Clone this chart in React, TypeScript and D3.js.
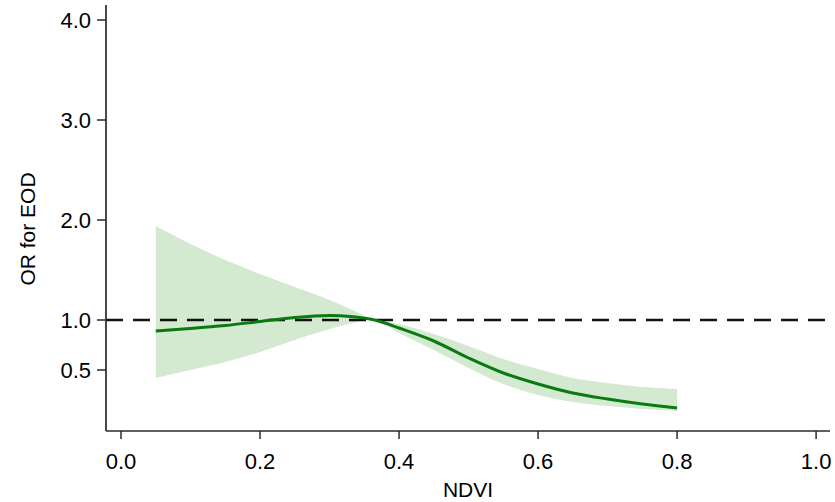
import React from "react";
import * as d3 from "d3";

const ndvi = [0.05, 0.1, 0.15, 0.2, 0.25, 0.3, 0.33, 0.365, 0.4, 0.45, 0.5, 0.55, 0.6, 0.65, 0.7, 0.75, 0.8];
const orMid = [0.89, 0.915, 0.945, 0.985, 1.025, 1.045, 1.035, 1.0, 0.92, 0.79, 0.62, 0.47, 0.36, 0.27, 0.21, 0.16, 0.12];
const orUpper = [1.94, 1.76, 1.6, 1.46, 1.33, 1.2, 1.11, 1.0, 0.96, 0.86, 0.74, 0.61, 0.51, 0.42, 0.37, 0.33, 0.31];
const orLower = [0.42, 0.5, 0.58, 0.68, 0.8, 0.91, 0.965, 1.0, 0.87, 0.7, 0.52, 0.36, 0.25, 0.18, 0.14, 0.11, 0.09];
const xTicks = [0, 0.2, 0.4, 0.6, 0.8, 1.0];
const yTicks = [0.5, 1.0, 2.0, 3.0, 4.0];
const refValue = 1.0;
const xLabel = "NDVI";
const yLabel = "OR for EOD";

export default function App() {
  const W = 835, H = 502;
  const left = 106, right = 830, top = 5, bottom = 431;
  const x = d3.scaleLinear().domain([-0.0216, 1.02]).range([left, right]);
  const y = d3.scaleLinear().domain([-0.11, 4.15]).range([bottom, top]);
  const rows = ndvi.map((v, i) => ({ v, m: orMid[i], u: orUpper[i], l: orLower[i] }));
  const area = d3.area<any>().x(d => x(d.v)).y0(d => y(d.l)).y1(d => y(d.u)).curve(d3.curveCatmullRom.alpha(0.5));
  const line = d3.line<any>().x(d => x(d.v)).y(d => y(d.m)).curve(d3.curveCatmullRom.alpha(0.5));
  const font = "'Liberation Sans', Arial, Helvetica, sans-serif";
  const axisColor = "#2a2a2a";
  return (
    <svg width={W} height={H} style={{ position: "absolute", left: 0, top: 0, background: "#fff" }} fontFamily={font}>
      <path d={area(rows) || ""} fill="#d3e9d0" stroke="none" />
      <line x1={left} x2={W} y1={y(refValue)} y2={y(refValue)} stroke="#111" strokeWidth={2.5} strokeDasharray="17 10" />
      <path d={line(rows) || ""} fill="none" stroke="#0a7a10" strokeWidth={3} />
      <line x1={left} x2={left} y1={top} y2={bottom} stroke={axisColor} strokeWidth={1.7} />
      <line x1={left} x2={right} y1={bottom} y2={bottom} stroke={axisColor} strokeWidth={1.7} />
      {yTicks.map(t => (
        <g key={"y" + t}>
          <line x1={left - 9} x2={left} y1={y(t)} y2={y(t)} stroke={axisColor} strokeWidth={1.5} />
          <text x={left - 15} y={y(t)} dy="0.36em" textAnchor="end" fontSize={22} fill="#000">{t.toFixed(1)}</text>
        </g>
      ))}
      {xTicks.map(t => (
        <g key={"x" + t}>
          <line x1={x(t)} x2={x(t)} y1={bottom} y2={bottom + 8} stroke={axisColor} strokeWidth={1.5} />
          <text x={x(t)} y={469} textAnchor="middle" fontSize={22} fill="#000">{t.toFixed(1)}</text>
        </g>
      ))}
      <text x={(left + right) / 2} y={497} textAnchor="middle" fontSize={21} fill="#000">{xLabel}</text>
      <text transform={`translate(35,229) rotate(-90)`} textAnchor="middle" fontSize={21} fill="#000">{yLabel}</text>
    </svg>
  );
}
